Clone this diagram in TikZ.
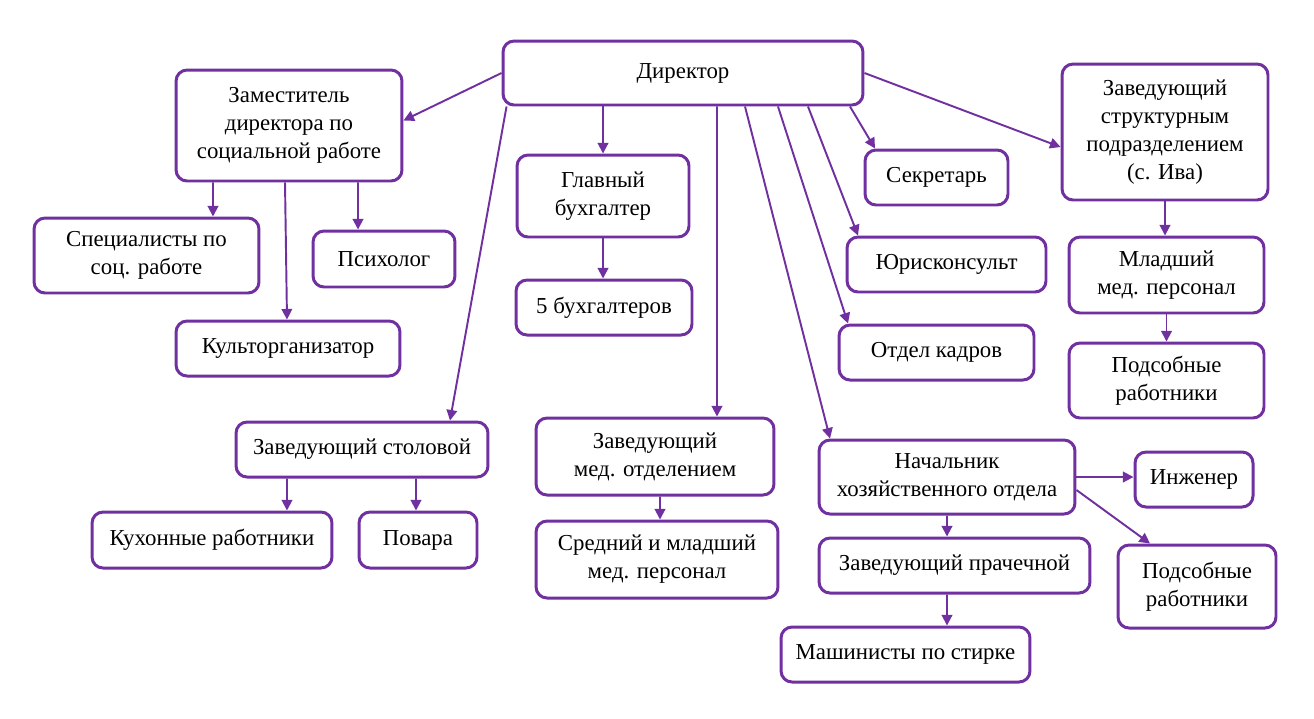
\documentclass[tikz,border=0pt]{standalone}
\usepackage{fontspec}
\setmainfont{Liberation Serif}
\usetikzlibrary{arrows.meta}

\definecolor{frame}{HTML}{7030A0}

\tikzset{
    box/.style={draw=frame, line width=1.7pt, rounded corners=0.22cm, fill=white,
        align=center, inner sep=2pt, font=\fontsize{13}{16}\selectfont},
    arr/.style={every edge/.style={draw=frame, line width=1.1pt,
        -{Triangle[length=6pt,width=6pt]}}}
}

\begin{document}
\begin{tikzpicture}[x=0.02cm, y=-0.02cm]
    \useasboundingbox (0,0) rectangle (1314,718);

    \node[box, minimum width=7.2cm,  minimum height=1.28cm] (dir)  at (683,73)     {Директор};
    \node[box, minimum width=4.52cm, minimum height=2.22cm] (zam)  at (289,125.5)  {Заместитель\\ директора по\\ социальной работе};
    \node[box, minimum width=4.5cm,  minimum height=1.5cm]  (spec) at (146.5,255.5){Специалисты по\\ соц. работе};
    \node[box, minimum width=2.84cm, minimum height=1.12cm] (psy)  at (384,259)    {Психолог};
    \node[box, minimum width=4.48cm, minimum height=1.1cm]  (kult) at (288,348.5)  {Культорганизатор};
    \node[box, minimum width=3.44cm, minimum height=1.64cm] (glav) at (603,196)    {Главный\\ бухгалтер};
    \node[box, minimum width=3.52cm, minimum height=1.1cm]  (buh)  at (604,307.5)  {5 бухгалтеров};
    \node[box, minimum width=2.86cm, minimum height=1.1cm]  (sekr) at (936.5,177.5){Секретарь};
    \node[box, minimum width=3.98cm, minimum height=1.1cm]  (yur)  at (946.5,264.5){Юрисконсульт};
    \node[box, minimum width=3.9cm,  minimum height=1.1cm]  (kadr) at (936.5,352.5){Отдел кадров};
    \node[box, minimum width=4.12cm, minimum height=2.72cm] (zstr) at (1165,132)   {Заведующий\\ структурным\\ подразделением\\ (с. Ива)};
    \node[box, minimum width=3.9cm,  minimum height=1.52cm] (mlad) at (1166.5,275) {Младший\\ мед. персонал};
    \node[box, minimum width=3.9cm,  minimum height=1.5cm]  (pods) at (1166.5,380.5){Подсобные\\ работники};
    \node[box, minimum width=5.04cm, minimum height=1.1cm]  (zstol) at (362,449.5) {Заведующий столовой};
    \node[box, minimum width=4.8cm,  minimum height=1.12cm] (kuh)  at (212,540)    {Кухонные работники};
    \node[box, minimum width=2.36cm, minimum height=1.12cm] (pov)  at (418,540)    {Повара};
    \node[box, minimum width=4.76cm, minimum height=1.54cm] (zmed) at (655,456.5)  {Заведующий\\ мед. отделением};
    \node[box, minimum width=4.84cm, minimum height=1.54cm] (sred) at (657,559.5)  {Средний и младший\\ мед. персонал};
    \node[box, minimum width=5.12cm, minimum height=1.48cm] (nhoz) at (947,477)    {Начальник\\ хозяйственного отдела};
    \node[box, minimum width=2.36cm, minimum height=1.1cm]  (inzh) at (1194,479.5) {Инженер};
    \node[box, minimum width=3.16cm, minimum height=1.66cm] (podh) at (1197,586.5) {Подсобные\\ работники};
    \node[box, minimum width=5.42cm, minimum height=1.1cm]  (zpr)  at (954.5,565.5){Заведующий прачечной};
    \node[box, minimum width=4.98cm, minimum height=1.1cm]  (mash) at (905.5,654.5){Машинисты по стирке};

    % director
    \path[arr]
    (dir.west) edge ([yshift=0.1cm]zam.east)
    ([xshift=0.1cm]dir.south west) edge ([xshift=1.76cm]zstol.north)
    (dir.south -| glav.north) edge (glav.north)
    ([xshift=0.68cm]dir.south) edge ([xshift=1.24cm]zmed.north)
    ([xshift=1.24cm]dir.south) edge ([xshift=-2.34cm]nhoz.north)
    ([xshift=1.9cm]dir.south) edge ([xshift=-1.77cm]kadr.north)
    ([xshift=2.5cm]dir.south) edge ([xshift=-1.77cm]yur.north)
    ([xshift=3.34cm]dir.south) edge ([xshift=-1.23cm]sekr.north)
    (dir.east) edge ([yshift=-0.3cm]zstr.west);

    % deputy
    \path[arr]
    ([xshift=-1.52cm]zam.south) edge ([xshift=1.33cm]spec.north)
    ([xshift=-0.08cm]zam.south) edge ([xshift=-0.02cm]kult.north)
    ([xshift=1.38cm]zam.south) edge ([xshift=-0.52cm]psy.north);

    \path[arr]
    (glav.south) edge (buh.north -| glav.south)
    (zstr.south) edge (mlad.north -| zstr.south)
    (mlad.south) edge (pods.north)
    ([xshift=-1.5cm]zstol.south) edge ([xshift=1.5cm]kuh.north)
    ([xshift=1.08cm]zstol.south) edge ([xshift=-0.04cm]pov.north)
    ([xshift=0.1cm]zmed.south) edge ([xshift=0.06cm]sred.north);

    % household
    \path[arr]
    (nhoz.east) edge (nhoz.east -| inzh.west)
    ([yshift=-0.26cm]nhoz.east) edge ([xshift=-0.94cm]podh.north)
    (nhoz.south) edge ([xshift=-0.15cm]zpr.north)
    ([xshift=-0.15cm]zpr.south) edge ([xshift=0.83cm]mash.north);
\end{tikzpicture}
\end{document}
